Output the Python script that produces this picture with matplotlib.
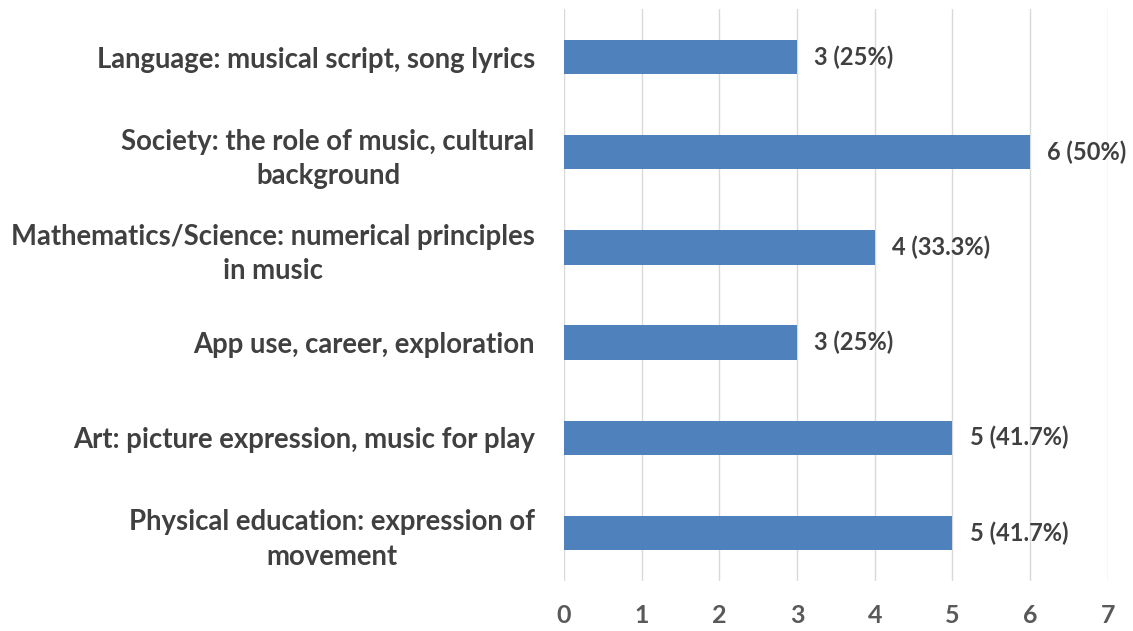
import matplotlib.pyplot as plt
import numpy as np

# integration areas and number of responses (percent of 12)
categories = [
    "Language: musical script, song lyrics",
    "Society: the role of music, cultural\nbackground",
    "Mathematics/Science: numerical principles\nin music",
    "App use, career, exploration",
    "Art: picture expression, music for play",
    "Physical education: expression of\nmovement",
]
counts = [3, 6, 4, 3, 5, 5]
percents = ["25%", "50%", "33.3%", "25%", "41.7%", "41.7%"]
x_ticks = [0, 1, 2, 3, 4, 5, 6, 7]

plt.rcParams['font.family'] = ['Lato', 'DejaVu Sans']

fig = plt.figure(figsize=(11.33, 6.31), dpi=100)
ax = fig.add_axes([0.4978, 0.080, 0.480, 0.905])

y = np.arange(len(categories))
ax.barh(y, counts, height=0.36, color='#4F81BD', zorder=3)

for yi, c, p in zip(y, counts, percents):
    ax.text(c + 0.22, yi, f"{c} ({p})", va='center', ha='left',
            fontsize=17, fontweight='bold', color='#404040')

ax.set_xlim(0, 7)
ax.set_ylim(len(categories) - 0.5, -0.5)
ax.set_xticks(x_ticks)
ax.set_xticklabels([str(t) for t in x_ticks], fontsize=18, fontweight='bold', color='#595959')
ax.set_yticks(y)
ax.set_yticklabels(categories, fontsize=19.8, fontweight='bold', color='#404040',
                   multialignment='center', linespacing=1.4)
ax.tick_params(axis='both', length=0)
ax.tick_params(axis='x', pad=17)
ax.tick_params(axis='y', pad=21)

ax.grid(axis='x', color='#D9D9D9', linewidth=1, zorder=0)
for s in ax.spines.values():
    s.set_visible(False)

fig.savefig('out.png', dpi=100)
